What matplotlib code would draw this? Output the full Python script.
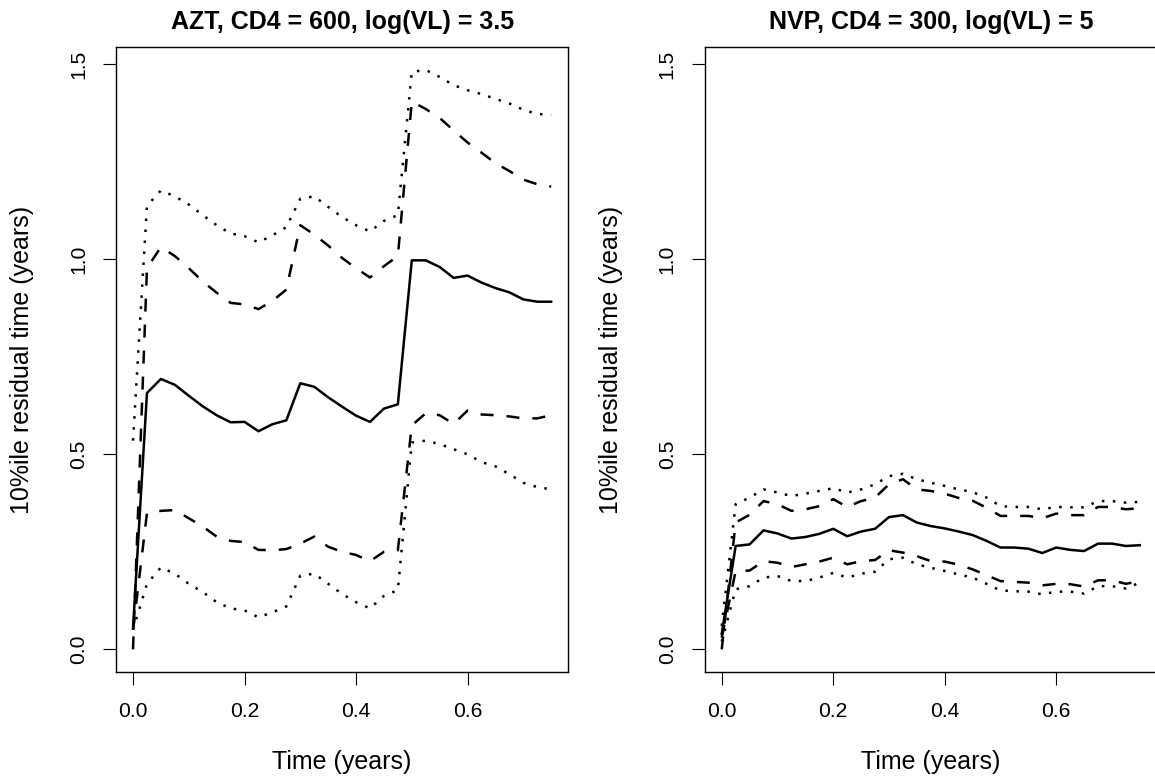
import matplotlib
matplotlib.use('Agg')
import matplotlib.pyplot as plt

plt.rcParams['font.family'] = ['Liberation Sans', 'DejaVu Sans']

# Time grid (years)
time = [0.000, 0.025, 0.050, 0.075, 0.100, 0.125, 0.150, 0.175, 0.200, 0.225,
        0.250, 0.275, 0.300, 0.325, 0.350, 0.375, 0.400, 0.425, 0.450, 0.475,
        0.500, 0.525, 0.550, 0.575, 0.600, 0.625, 0.650, 0.675, 0.700, 0.725, 0.750]

# AZT, CD4 = 600, log(VL) = 3.5
azt_est = [0.055, 0.657, 0.693, 0.678, 0.650, 0.623, 0.600, 0.582, 0.583, 0.559,
           0.577, 0.587, 0.682, 0.673, 0.646, 0.622, 0.599, 0.583, 0.617, 0.628,
           0.997, 0.997, 0.980, 0.952, 0.958, 0.940, 0.926, 0.915, 0.897, 0.891, 0.891]
azt_hi1 = [0.000, 0.977, 1.031, 1.008, 0.977, 0.943, 0.914, 0.888, 0.884, 0.872,
           0.893, 0.922, 1.087, 1.063, 1.035, 1.003, 0.977, 0.953, 0.982, 1.008,
           1.404, 1.385, 1.362, 1.330, 1.299, 1.273, 1.246, 1.226, 1.204, 1.192, 1.186]
azt_hi2 = [0.535, 1.137, 1.176, 1.161, 1.140, 1.113, 1.087, 1.066, 1.059, 1.043,
           1.061, 1.082, 1.155, 1.161, 1.134, 1.108, 1.087, 1.071, 1.098, 1.113,
           1.480, 1.485, 1.467, 1.446, 1.433, 1.423, 1.411, 1.399, 1.383, 1.372, 1.370]
azt_lo1 = [0.050, 0.349, 0.355, 0.357, 0.336, 0.315, 0.289, 0.278, 0.275, 0.255,
           0.254, 0.257, 0.271, 0.289, 0.263, 0.250, 0.242, 0.226, 0.250, 0.254,
           0.574, 0.605, 0.600, 0.578, 0.612, 0.602, 0.600, 0.597, 0.592, 0.592, 0.600]
azt_lo2 = [0.050, 0.168, 0.210, 0.194, 0.168, 0.147, 0.121, 0.105, 0.100, 0.082,
           0.095, 0.110, 0.189, 0.194, 0.168, 0.142, 0.121, 0.105, 0.137, 0.152,
           0.530, 0.535, 0.526, 0.513, 0.500, 0.480, 0.469, 0.449, 0.427, 0.416, 0.410]

# NVP, CD4 = 300, log(VL) = 5
nvp_est = [0.040, 0.265, 0.269, 0.305, 0.297, 0.284, 0.288, 0.296, 0.309, 0.290,
           0.302, 0.309, 0.339, 0.344, 0.325, 0.316, 0.310, 0.302, 0.293, 0.278,
           0.261, 0.261, 0.258, 0.247, 0.261, 0.255, 0.252, 0.271, 0.271, 0.265, 0.267]
nvp_hi1 = [0.000, 0.325, 0.345, 0.380, 0.372, 0.355, 0.359, 0.367, 0.385, 0.365,
           0.380, 0.389, 0.423, 0.436, 0.410, 0.406, 0.399, 0.388, 0.381, 0.363,
           0.342, 0.342, 0.342, 0.336, 0.348, 0.344, 0.344, 0.365, 0.365, 0.359, 0.362]
nvp_hi2 = [0.060, 0.372, 0.389, 0.410, 0.402, 0.393, 0.399, 0.406, 0.413, 0.402,
           0.410, 0.423, 0.444, 0.450, 0.436, 0.427, 0.419, 0.410, 0.403, 0.389,
           0.367, 0.365, 0.365, 0.359, 0.365, 0.364, 0.364, 0.380, 0.380, 0.376, 0.378]
nvp_lo1 = [0.030, 0.201, 0.202, 0.226, 0.222, 0.211, 0.218, 0.225, 0.235, 0.218,
           0.226, 0.229, 0.254, 0.248, 0.239, 0.226, 0.225, 0.217, 0.205, 0.190,
           0.175, 0.173, 0.171, 0.164, 0.168, 0.167, 0.161, 0.177, 0.177, 0.168, 0.175]
nvp_lo2 = [0.020, 0.154, 0.162, 0.184, 0.188, 0.175, 0.175, 0.184, 0.196, 0.184,
           0.194, 0.199, 0.231, 0.235, 0.218, 0.209, 0.201, 0.192, 0.184, 0.168,
           0.151, 0.149, 0.148, 0.141, 0.148, 0.148, 0.143, 0.162, 0.162, 0.156, 0.171]

titles = ['AZT, CD4 = 600, log(VL) = 3.5', 'NVP, CD4 = 300, log(VL) = 5']
panels = [(azt_est, azt_hi1, azt_lo1, azt_hi2, azt_lo2),
          (nvp_est, nvp_hi1, nvp_lo1, nvp_hi2, nvp_lo2)]

W, H = 1155, 778
fig = plt.figure(figsize=(W / 100, H / 100), dpi=100)

lw = 1.8
dash = (5.2, 5.2)
dot = (1.0, 3.4)

lefts = [116.3, 705.0]
for i, (est, hi1, lo1, hi2, lo2) in enumerate(panels):
    ax = fig.add_axes([lefts[i] / W, 1 - 672 / H, 451.6 / W, (672 - 47.3) / H])

    ax.plot(time, est, color='black', lw=lw, solid_joinstyle='round')
    for y in (hi1, lo1):
        ax.plot(time, y, color='black', lw=lw, dashes=dash, dash_capstyle='butt')
    for y in (hi2, lo2):
        ax.plot(time, y, color='black', lw=lw, dashes=dot, dash_capstyle='butt')

    ax.set_xlim(-0.03, 0.78)
    ax.set_ylim(-0.058, 1.543)
    ax.set_xticks([0.0, 0.2, 0.4, 0.6])
    ax.set_xticklabels(['0.0', '0.2', '0.4', '0.6'])
    ax.set_yticks([0.0, 0.5, 1.0, 1.5])
    ax.set_yticklabels(['0.0', '0.5', '1.0', '1.5'], rotation=90, va='center')
    ax.tick_params(direction='out', length=9.4, width=0.8, labelsize=15.2, pad=11)
    ax.tick_params(axis='x', pad=12)
    for s in ax.spines.values():
        s.set_linewidth(1.0)
    if i == 1:
        # the right edge of this box falls just outside the canvas
        ax.spines['right'].set_visible(False)

    cx = (lefts[i] + 451.6 / 2) / W
    fig.text(cx, 1 - 22 / H, titles[i], ha='center', va='center',
             fontsize=18, fontweight='bold')
    fig.text(cx, 1 - 762 / H, 'Time (years)', ha='center', va='center', fontsize=18)
    fig.text((lefts[i] - 94) / W, 1 - 360 / H, '10%ile residual time (years)',
             ha='center', va='center', rotation=90, fontsize=18)

fig.savefig('out.png', dpi=100)
